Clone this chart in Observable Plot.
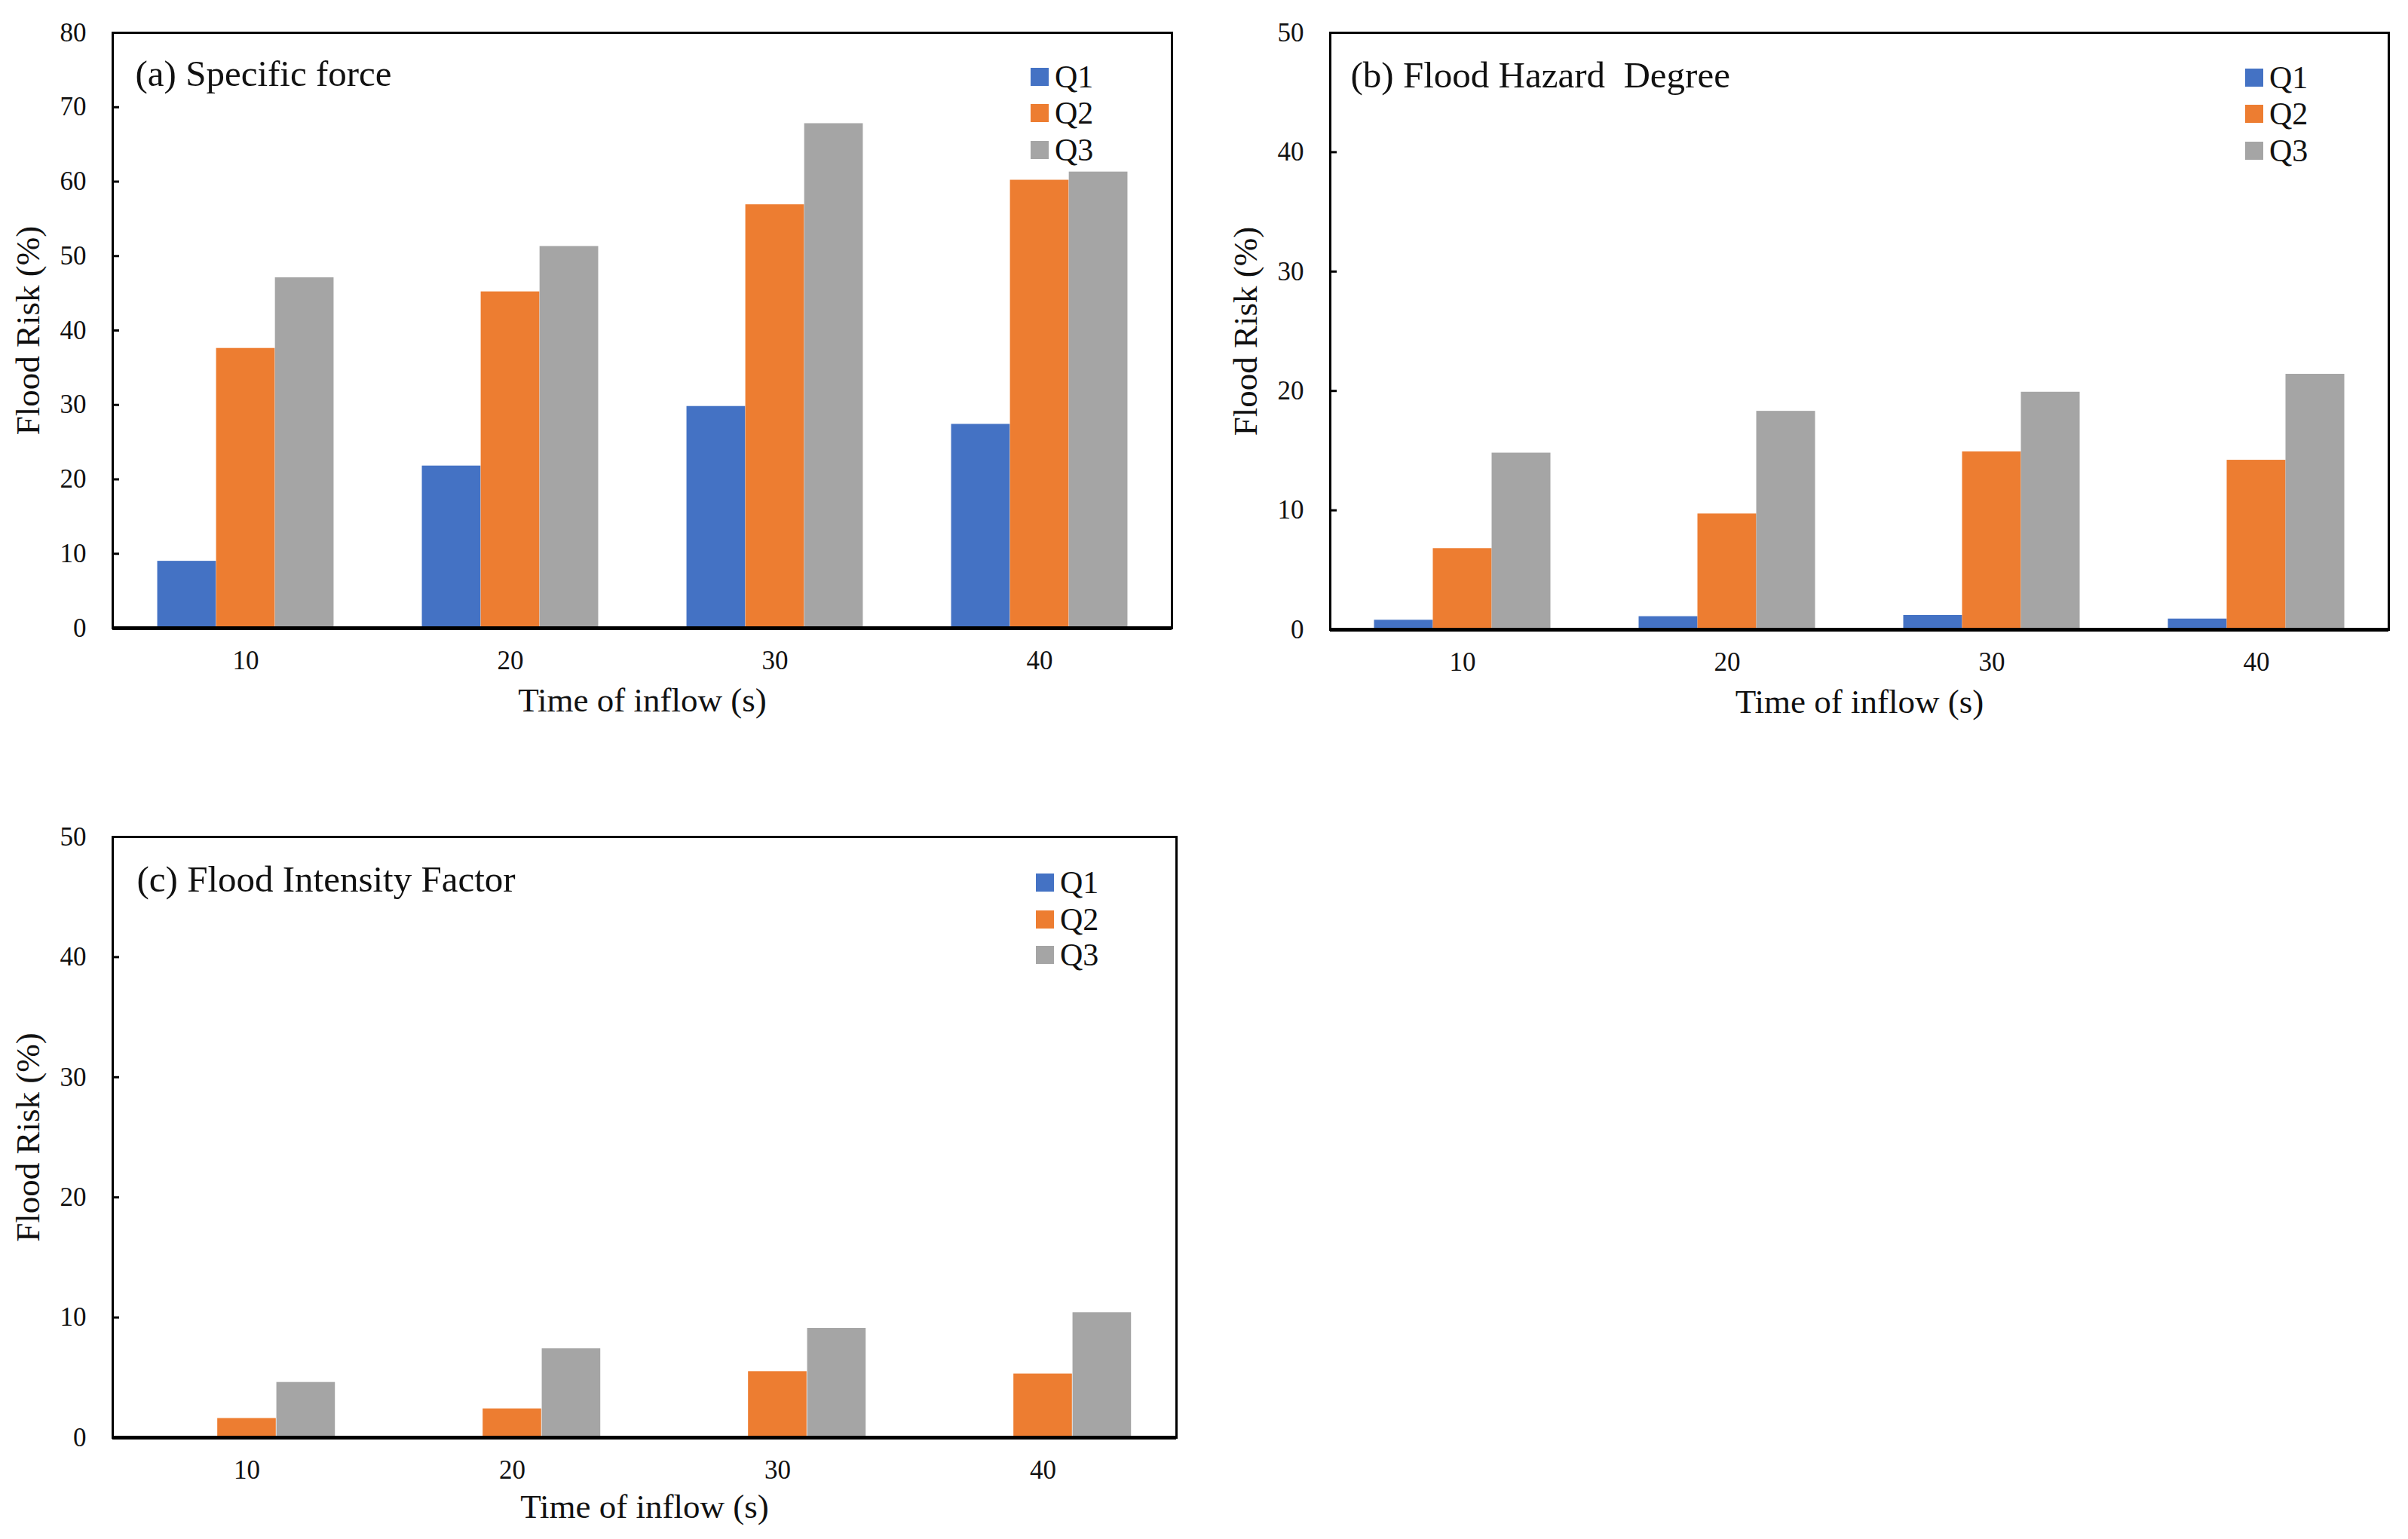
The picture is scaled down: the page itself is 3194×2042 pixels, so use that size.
<!DOCTYPE html>
<html><head><meta charset="utf-8">
<script src="https://cdn.jsdelivr.net/npm/d3@7"></script>
<script src="https://cdn.jsdelivr.net/npm/@observablehq/plot@0.6"></script>
<style>
body{margin:0;background:#fff;}
#root{position:relative;width:3194px;height:2042px;background:#fff;font-family:"Liberation Serif","Times New Roman",serif;color:#111;overflow:hidden;}
.panel{position:absolute;}
.lg{position:absolute;font-size:42px;line-height:1;display:flex;align-items:center;}
.lg span.sw{display:inline-block;width:24px;height:24px;margin-right:8px;}
</style></head><body><div id="root"></div>
<script>
// ---- data ----
const times = [10, 20, 30, 40];
const seriesNames = ["Q1", "Q2", "Q3"];
const seriesColors = ["#4472C4", "#ED7D31", "#A5A5A5"];

const sfQ1 = [9.0, 21.8, 29.8, 27.4];
const sfQ2 = [37.6, 45.2, 56.9, 60.2];
const sfQ3 = [47.1, 51.3, 67.8, 61.3];

const fhdQ1 = [0.8, 1.1, 1.2, 0.9];
const fhdQ2 = [6.8, 9.7, 14.9, 14.2];
const fhdQ3 = [14.8, 18.3, 19.9, 21.4];

const fifQ1 = [0, 0, 0, 0];
const fifQ2 = [1.6, 2.4, 5.5, 5.3];
const fifQ3 = [4.6, 7.4, 9.1, 10.4];

const ticksA = [0, 10, 20, 30, 40, 50, 60, 70, 80];
const ticksBC = [0, 10, 20, 30, 40, 50];

const yTitle = "Flood Risk (%)";
const xTitle = "Time of inflow (s)";

const root = document.getElementById("root");

function panel(cfg) {
  const {left, top, width, height, mt, mr, mb, ml, yTicks, series, title, tdx, tdy, xdy, legend} = cfg;
  const plotW = width - ml - mr;
  const bw = plotW / times.length;
  const rows = [];
  series.forEach((vals, i) => vals.forEach((v, j) => rows.push({time: times[j], series: seriesNames[i], value: v})));
  const marks = [];
  seriesNames.forEach((s, i) => {
    const l = bw / 6 + i * bw * 2 / 9;
    const r = bw - (l + bw * 2 / 9);
    marks.push(Plot.barY(rows.filter(d => d.series === s), {x: "time", y: "value", fill: seriesColors[i], insetLeft: l, insetRight: r}));
  });
  marks.push(Plot.tickY(yTicks, {y: d => d, stroke: "#000", strokeWidth: 3, insetRight: plotW - 9}));
  marks.push(Plot.ruleY([0], {stroke: "#000", strokeWidth: 5}));
  marks.push(Plot.frame({stroke: "#000", strokeWidth: 3}));
  marks.push(Plot.axisY({ticks: yTicks, tickSize: 0, tickPadding: 35, label: null, fontSize: 35, tickFormat: d => String(d)}));
  marks.push(Plot.axisX({tickSize: 0, tickPadding: 30, label: null, fontSize: 35}));
  marks.push(Plot.text([yTitle], {frameAnchor: "left", rotate: -90, dx: -112, textAnchor: "middle", lineAnchor: "middle", fontSize: 45, text: d => d}));
  marks.push(Plot.text([xTitle], {frameAnchor: "bottom", dy: xdy, textAnchor: "middle", lineAnchor: "middle", fontSize: 45, text: d => d}));
  marks.push(Plot.text([title], {frameAnchor: "top-left", dx: tdx, dy: tdy, textAnchor: "start", lineAnchor: "middle", fontSize: 49, text: d => d}));
  const svg = Plot.plot({
    width, height,
    marginTop: mt, marginRight: mr, marginBottom: mb, marginLeft: ml,
    style: {fontFamily: "'Liberation Serif','Times New Roman',serif", fontSize: "35px", color: "#111", background: "transparent", overflow: "visible"},
    x: {type: "band", domain: times, padding: 0},
    y: {domain: [yTicks[0], yTicks[yTicks.length - 1]]},
    marks
  });
  const wrap = document.createElement("div");
  wrap.className = "panel";
  wrap.style.left = left + "px";
  wrap.style.top = top + "px";
  wrap.appendChild(svg);
  root.appendChild(wrap);
  seriesNames.forEach((s, i) => {
    const d = document.createElement("div");
    d.className = "lg";
    d.style.left = legend.x + "px";
    d.style.top = (legend.ys[i] - 21) + "px";
    d.style.height = "42px";
    d.innerHTML = `<span class="sw" style="background:${seriesColors[i]}"></span><span>${s}</span>`;
    root.appendChild(d);
  });
}

panel({left: 0, top: 0, width: 1600, height: 980, mt: 43, mr: 46, mb: 147, ml: 149,
  yTicks: ticksA, series: [sfQ1, sfQ2, sfQ3], title: "(a) Specific force", tdx: 30, tdy: 55, xdy: 96,
  legend: {x: 1367, ys: [102, 150, 199]}});
panel({left: 1600, top: 0, width: 1594, height: 980, mt: 43, mr: 26, mb: 145, ml: 164,
  yTicks: ticksBC, series: [fhdQ1, fhdQ2, fhdQ3], title: "(b) Flood Hazard  Degree", tdx: 27, tdy: 57, xdy: 96,
  legend: {x: 2978, ys: [103, 151, 200]}});
panel({left: 0, top: 1060, width: 1600, height: 982, mt: 50, mr: 40, mb: 135, ml: 149,
  yTicks: ticksBC, series: [fifQ1, fifQ2, fifQ3], title: "(c) Flood Intensity Factor", tdx: 32, tdy: 57, xdy: 92,
  legend: {x: 1374, ys: [1171, 1220, 1267]}});
</script></body></html>
